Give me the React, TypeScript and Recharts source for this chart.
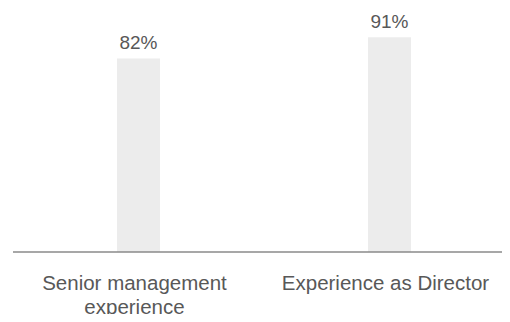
import { BarChart, Bar, XAxis, YAxis, LabelList } from "recharts";

const categories = ["Senior management experience", "Experience as Director"];
const values = [82, 91];
const tickLines = [["Senior management", "experience"], ["Experience as Director"]];

const data = categories.map((name, i) => ({ name, value: values[i] }));

const FONT = "'Liberation Sans', Arial, Helvetica, sans-serif";

function WrappedTick(props: any) {
  const { x, y, index } = props;
  const lines = tickLines[index] || [props.payload.value];
  const cx = x - 4;
  return (
    <text x={cx} y={y} textAnchor="middle" fill="#585858" fontSize={20.5} fontFamily={FONT}>
      {lines.map((l, i) => (
        <tspan key={i} x={cx} dy={i === 0 ? 38 : 24}>
          {l}
        </tspan>
      ))}
    </text>
  );
}

export default function App() {
  return (
    <div style={{ width: 510, height: 322, margin: -8 }}>
      <BarChart
        width={510}
        height={322}
        data={data}
        margin={{ top: 16, right: 0, bottom: 10, left: 13 }}
      >
        <XAxis
          dataKey="name"
          axisLine={{ stroke: "#8a8a8a", strokeWidth: 1.6 }}
          tickLine={false}
          tickSize={0}
          tickMargin={0}
          height={60}
          interval={0}
          padding={{ left: 0, right: -5 }}
          tick={<WrappedTick />}
        />
        <YAxis hide domain={[0, 100]} />
        <Bar dataKey="value" fill="#ececec" barSize={43} isAnimationActive={false}>
          <LabelList
            dataKey="value"
            position="top"
            offset={9}
            formatter={(v: any) => `${v}%`}
            fill="#585858"
            fontSize={19}
            fontFamily={FONT}
          />
        </Bar>
      </BarChart>
    </div>
  );
}
